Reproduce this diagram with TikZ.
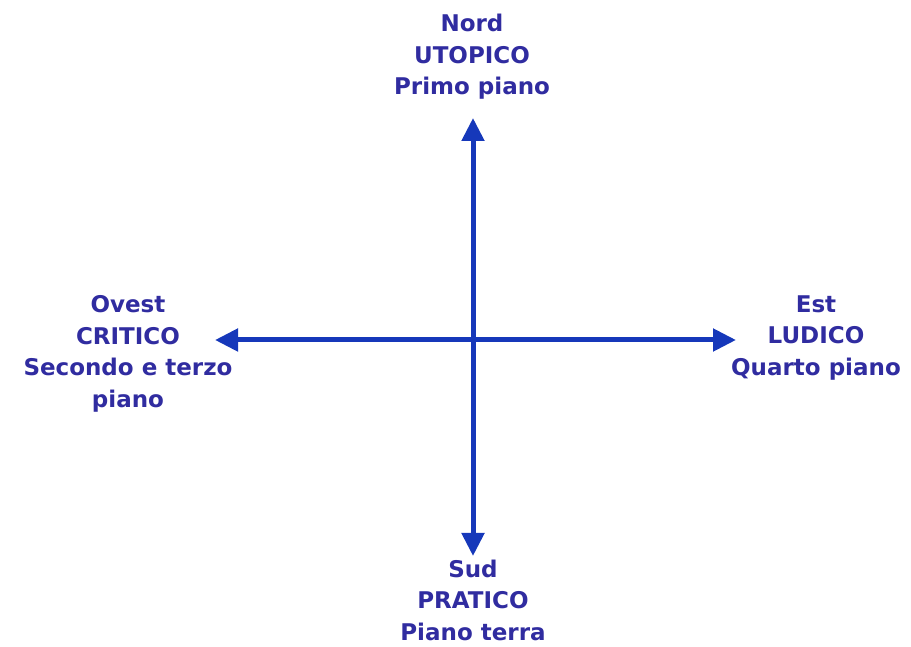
\documentclass[tikz,border=0pt]{standalone}
\usepackage{fontspec}
\setmainfont{DejaVu Sans}
\usetikzlibrary{arrows.meta}
\definecolor{labelblue}{RGB}{48,44,160}
\definecolor{axisblue}{RGB}{22,56,186}
\tikzset{
  x=1pt, y=1pt,
  lbl/.style={align=center, text=labelblue, inner sep=0pt,
    font=\bfseries\fontsize{23}{31.5}\selectfont},
  axis/.style={draw=axisblue, line width=5pt,
    {Triangle[length=23pt,width=22pt]}-{Triangle[length=23pt,width=22pt]}}
}
\begin{document}
\begin{tikzpicture}
\useasboundingbox (0,0) rectangle (911,646);
% end points of the two axes
\coordinate (ntip) at (473,528);
\coordinate (stip) at (473,90);
\coordinate (wtip) at (215,306);
\coordinate (etip) at (736,306);
% axes
\draw[axis] (stip) -- (ntip);
\draw[axis] (wtip) -- (etip);
% the four cardinal labels
\node[lbl] (nord) at (472,589) {Nord\\UTOPICO\\Primo piano};
\node[lbl] (ovest) at (128,292) {Ovest\\CRITICO\\Secondo e terzo\\piano};
\node[lbl] (est) at (816,308) {Est\\LUDICO\\Quarto piano};
\node[lbl] (sud) at (473,46) {Sud\\PRATICO\\Piano terra};
\end{tikzpicture}
\end{document}
